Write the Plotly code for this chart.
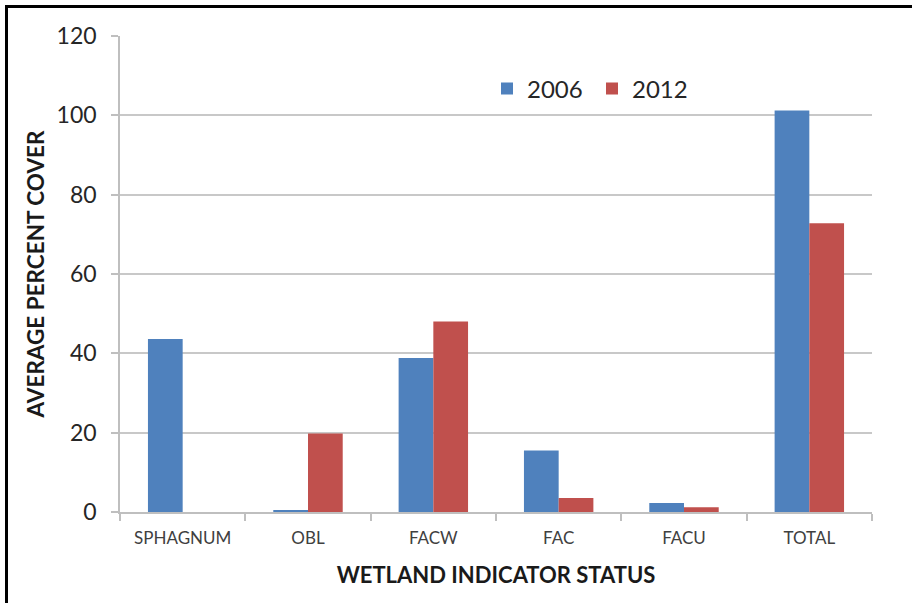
import plotly.graph_objects as go

categories = ["SPHAGNUM", "OBL", "FACW", "FAC", "FACU", "TOTAL"]
values_2006 = [43.6, 0.5, 38.8, 15.5, 2.3, 101.2]
values_2012 = [0, 19.8, 48.0, 3.5, 1.2, 72.8]
series_names = ["2006", "2012"]
y_ticks = [0, 20, 40, 60, 80, 100, 120]

W, H = 912, 603
ML, MR, MT, MB = 120, 40, 36, 91
PW, PH = W - ML - MR, H - MT - MB

FONT = "Lato"

fig = go.Figure()
fig.add_trace(go.Bar(x=categories, y=values_2006, name=series_names[0],
                     marker=dict(color="#4F81BD", line=dict(width=0))))
fig.add_trace(go.Bar(x=categories, y=values_2012, name=series_names[1],
                     marker=dict(color="#C0504D", line=dict(width=0))))

def px_x(p):
    return (p - ML) / PW

def px_y(p):
    return (H - MB - p) / PH

fig.update_layout(
    width=W, height=H,
    margin=dict(l=ML, r=MR, t=MT, b=MB, pad=0),
    paper_bgcolor="white", plot_bgcolor="white",
    barmode="group", bargap=0.446, bargroupgap=0,
    font=dict(family=FONT, color="#262626"),
    showlegend=True,
    legend=dict(orientation="h", x=px_x(487), y=px_y(89), xanchor="left", yanchor="middle",
                font=dict(size=24, color="#262626"), itemwidth=30, entrywidth=60,
                bgcolor="rgba(0,0,0,0)", traceorder="normal"),
    xaxis=dict(
        type="category", tickson="boundaries", ticks="outside", ticklen=7,
        tickcolor="#bfbfbf", tickwidth=1.5,
        showline=True, linecolor="#bfbfbf", linewidth=1.5,
        showgrid=False, tickfont=dict(size=17, color="#404040"), ticklabelstandoff=10,
        title=dict(text="<b>WETLAND INDICATOR STATUS</b>", font=dict(size=22, color="#1a1a1a"), standoff=20),
    ),
    yaxis=dict(
        range=[0, 120], tickvals=y_ticks, ticks="outside", ticklen=7,
        tickcolor="#bfbfbf", tickwidth=1.5,
        showline=True, linecolor="#bfbfbf", linewidth=1.5,
        showgrid=True, gridcolor="#c8c8c8", gridwidth=1.5,
        zeroline=False,
        tickfont=dict(size=23, color="#262626"), ticklabelstandoff=10,
        title=dict(text="<b>AVERAGE PERCENT COVER</b>", font=dict(size=22.5, color="#1a1a1a"), standoff=6),
    ),
    shapes=[
        dict(type="line", xref="paper", yref="paper", x0=px_x(6.5), x1=px_x(913),
             y0=px_y(6.5), y1=px_y(6.5), line=dict(color="black", width=3)),
        dict(type="line", xref="paper", yref="paper", x0=px_x(6.5), x1=px_x(6.5),
             y0=px_y(5), y1=px_y(604), line=dict(color="black", width=3)),
    ],
)

fig.write_html("out.html")
